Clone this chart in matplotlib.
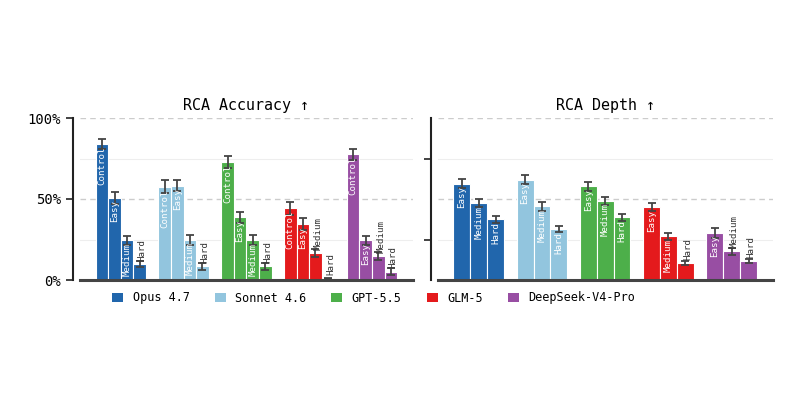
import matplotlib
matplotlib.use("Agg")
import matplotlib.pyplot as plt
from matplotlib.patches import Patch

models = ["Opus 4.7", "Sonnet 4.6", "GPT-5.5", "GLM-5", "DeepSeek-V4-Pro"]
colors = ["#2166ac", "#92c5de", "#4daf4a", "#e41a1c", "#984ea3"]

acc_levels = ["Control", "Easy", "Medium", "Hard"]
acc_values = [
    [0.838, 0.507, 0.244, 0.099],
    [0.575, 0.583, 0.248, 0.084],
    [0.731, 0.386, 0.246, 0.084],
    [0.444, 0.345, 0.164, 0.010],
    [0.776, 0.244, 0.148, 0.051],
]
acc_errors = [
    [0.030, 0.035, 0.027, 0.020],
    [0.040, 0.033, 0.030, 0.022],
    [0.037, 0.033, 0.030, 0.022],
    [0.040, 0.035, 0.025, 0.005],
    [0.033, 0.030, 0.023, 0.020],
]

depth_levels = ["Easy", "Medium", "Hard"]
depth_values = [
    [0.595, 0.474, 0.374],
    [0.620, 0.454, 0.314],
    [0.579, 0.489, 0.386],
    [0.448, 0.269, 0.103],
    [0.290, 0.177, 0.117],
]
depth_errors = [
    [0.027, 0.025, 0.020],
    [0.027, 0.025, 0.020],
    [0.027, 0.023, 0.020],
    [0.025, 0.023, 0.012],
    [0.029, 0.020, 0.014],
]

plt.rcParams["font.family"] = ["DejaVu Sans Mono"]

fig = plt.figure(figsize=(8, 4), dpi=100)
ax1 = fig.add_axes([0.100, 0.30, 0.416, 0.405])
ax2 = fig.add_axes([0.547, 0.30, 0.419, 0.405])


def draw(ax, levels, values, errors, title):
    n = len(levels)
    width = 0.8 / n
    for gi, (vals, errs) in enumerate(zip(values, errors)):
        for li, (v, e) in enumerate(zip(vals, errs)):
            x = gi + (li - (n - 1) / 2) * width
            ax.bar(x, v, width=width, color=colors[gi], edgecolor="white",
                   linewidth=0.8, zorder=2)
            ax.errorbar(x, v, yerr=e, fmt="none", ecolor="#444444",
                        elinewidth=1.3, capsize=3, capthick=1.3, zorder=3)
            if v > 0.2:
                ax.text(x, v - 0.015, levels[li], rotation=90, ha="center",
                        va="top", color="white", fontsize=6.6, zorder=4)
            else:
                ax.text(x + 0.04, v + 0.02, levels[li], rotation=90,
                        ha="center", va="bottom", color="#333333",
                        fontsize=6.6, zorder=4)
    ax.set_xlim(-0.65, 4.65)
    ax.set_ylim(0, 1.0)
    ax.set_xticks([])
    for y in [0.5, 1.0]:
        ax.axhline(y, color="#cccccc", linestyle=(0, (4, 3)), linewidth=1.0,
                   zorder=0)
    for y in [0.25, 0.75]:
        ax.axhline(y, color="#eeeeee", linewidth=0.8, zorder=0)
    ax.axhline(0, color="#444444", linewidth=2.2, zorder=5, clip_on=False)
    for s in ["top", "right", "bottom"]:
        ax.spines[s].set_visible(False)
    ax.spines["left"].set_position(("outward", 5))
    ax.spines["left"].set_linewidth(1.5)
    ax.spines["left"].set_color("#222222")
    ax.set_title(title, fontsize=10.8, pad=6)
    ax.tick_params(axis="y", length=5, width=1.2, labelsize=10,
                   color="#222222")


draw(ax1, acc_levels, acc_values, acc_errors, "RCA Accuracy ↑")
draw(ax2, depth_levels, depth_values, depth_errors, "RCA Depth ↑")

ax1.set_yticks([0, 0.5, 1.0])
ax1.set_yticklabels(["0%", "50%", "100%"])
ax2.set_yticks([0.25, 0.75])
ax2.set_yticklabels([])

handles = [Patch(facecolor=c, edgecolor="none") for c in colors]
fig.legend(handles, models, loc="center", bbox_to_anchor=(0.467, 0.255),
           ncol=5, frameon=False, fontsize=8.5, handlelength=0.95,
           handleheight=0.75, columnspacing=2.1, handletextpad=0.8)

fig.savefig("out.png", dpi=100)
